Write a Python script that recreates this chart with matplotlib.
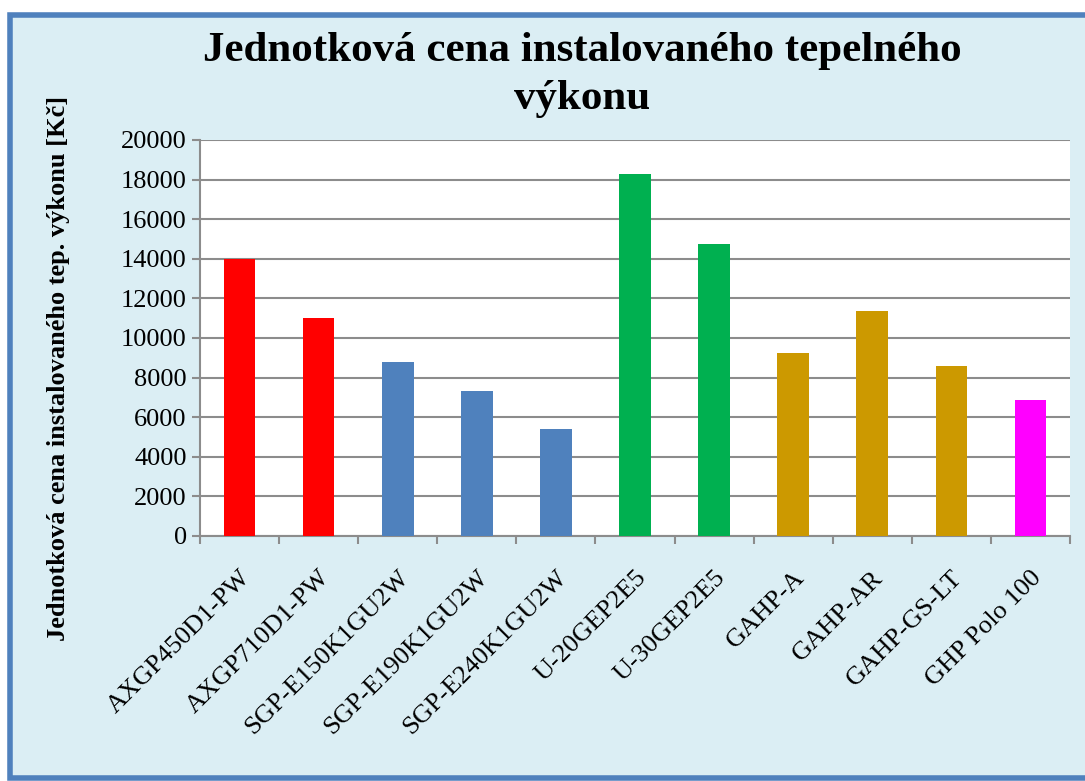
import matplotlib.pyplot as plt
from matplotlib.patches import Rectangle

models = ['AXGP450D1-PW', 'AXGP710D1-PW', 'SGP-E150K1GU2W', 'SGP-E190K1GU2W',
          'SGP-E240K1GU2W', 'U-20GEP2E5', 'U-30GEP2E5', 'GAHP-A', 'GAHP-AR',
          'GAHP-GS-LT', 'GHP Polo 100']
cena = [14000, 11000, 8800, 7300, 5400, 18300, 14750, 9250, 11350, 8600, 6850]
barvy = ['#FF0000', '#FF0000', '#4F81BD', '#4F81BD', '#4F81BD', '#00B050',
         '#00B050', '#CC9900', '#CC9900', '#CC9900', '#FF00FF']
yticks = list(range(0, 20001, 2000))

plt.rcParams['font.family'] = ['Liberation Serif', 'DejaVu Serif']

fig = plt.figure(figsize=(10.85, 7.81), dpi=100)
fig.patch.set_facecolor('white')
# background panel with blue frame (cut off on the right like the original)
fig.patches.append(Rectangle((10 / 1085, 3 / 781), 1.2, 763 / 781, transform=fig.transFigure,
                             facecolor='#DBEEF4', edgecolor='#4F81BD', linewidth=4, zorder=-10))

ax = fig.add_axes([200 / 1085, 1 - 536 / 781, 870 / 1085, 396 / 781])
ax.set_facecolor('white')
x = list(range(len(models)))
ax.bar(x, cena, width=0.4, color=barvy, zorder=3)
ax.set_xlim(-0.5, len(models) - 0.5)
ax.set_ylim(0, 20000)
ax.set_yticks(yticks)
ax.yaxis.grid(True, color='#8C8C8C', linewidth=1.5, zorder=0)
ax.set_xticks([i - 0.5 for i in range(len(models) + 1)], minor=False)
ax.set_xticklabels([])
ax.set_xticks(x, minor=True)
ax.set_xticklabels(models, minor=True, rotation=45, ha='right', va='top',
                   rotation_mode='anchor', fontsize=19)
ax.tick_params(axis='x', which='minor', length=0, pad=22)
ax.tick_params(axis='x', which='major', length=6, width=1.5, color='#8C8C8C')
ax.tick_params(axis='y', length=6, width=1.5, color='#8C8C8C', labelsize=19)
for s in ['top', 'right']:
    ax.spines[s].set_visible(False)
for s in ['left', 'bottom']:
    ax.spines[s].set_color('#8C8C8C')
    ax.spines[s].set_linewidth(1.5)

ax.set_ylabel('Jednotková cena instalovaného tep. výkonu [Kč]', fontsize=19,
              fontweight='bold')
ax.yaxis.set_label_coords(-130 / 870, (536 - 368) / 396)
fig.text(582 / 1085, 1 - 75 / 781, 'Jednotková cena instalovaného tepelného\nvýkonu',
         ha='center', va='center', fontsize=31, fontweight='bold', linespacing=1.35)

fig.savefig('out.png', dpi=100)
